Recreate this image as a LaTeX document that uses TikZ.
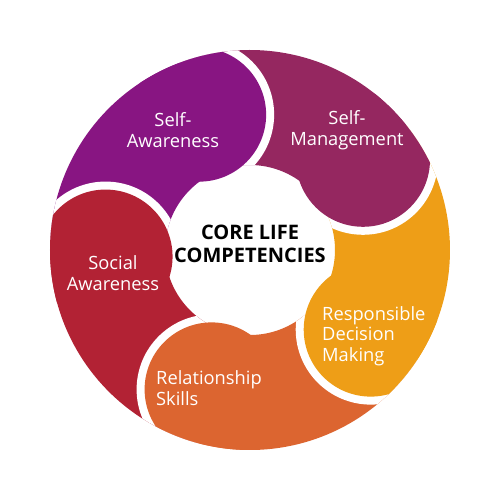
\documentclass[tikz,border=0pt]{standalone}
\usepackage{fontspec}
\setmainfont{Open Sans}
\definecolor{cRed}{HTML}{B22234}
\definecolor{cPurple}{HTML}{881582}
\definecolor{cMagenta}{HTML}{952760}
\definecolor{cYellow}{HTML}{EE9E17}
\definecolor{cOrange}{HTML}{DC6530}
\newcommand\Ro{200}
\newcommand\Ri{85}
\newcommand\Rh{67}
\newcommand\Rb{75}
\newcommand\Dh{144.6}
\newcommand\ringsector[2]{%
  \fill[#2] (#1:\Ro) arc[start angle=#1, end angle=#1+72, radius=\Ro]
    -- ({#1+72}:\Ri) arc[start angle=#1+72, end angle=#1, radius=\Ri] -- cycle;}
\newcommand\ringbite[1]{%
  \begin{scope}
    \clip (#1:\Ro) arc[start angle=#1, end angle=#1+72, radius=\Ro]
      -- ({#1+72}:\Ri) arc[start angle=#1+72, end angle=#1, radius=\Ri] -- cycle;
    \fill[white] ({#1+72}:\Dh) circle (\Rb);
  \end{scope}}
\newcommand\ringhead[2]{%
  \begin{scope}
    \clip (0,0) circle (\Ro);
    \fill[#2] (#1:\Dh) circle (\Rh);
  \end{scope}}
\tikzset{
  lbl/.style={text=white, font=\fontsize{18.3}{20.5}\selectfont, inner sep=0pt},
  core/.style={text=black, font=\fontsize{20}{22.5}\selectfont\bfseries, align=center, inner sep=0pt}
}
\begin{document}
\begin{tikzpicture}[x=1pt,y=1pt]
\useasboundingbox (-250,-250) rectangle (250,250);
\fill[white] (-250,-250) rectangle (250,250);
% sectors
\ringsector{182.6}{cRed}
\ringsector{110.6}{cPurple}
\ringsector{38.6}{cMagenta}
\ringsector{-33.4}{cYellow}
\ringsector{254.6}{cOrange}
% bites
\ringbite{182.6}
\ringbite{110.6}
\ringbite{38.6}
\ringbite{-33.4}
\ringbite{254.6}
% heads
\ringhead{182.6}{cRed}
\ringhead{110.6}{cPurple}
\ringhead{38.6}{cMagenta}
\ringhead{-33.4}{cYellow}
\ringhead{254.6}{cOrange}
% labels
\node[lbl, align=center] (sa) at (-77,120) {Self-\\Awareness};
\node[lbl, align=center] (sm) at (97,120) {Self-\\Management};
\node[lbl, align=center] (soc) at (-137,-23) {Social\\Awareness};
\node[lbl, align=left, anchor=west] (rdm) at (72,-86) {Responsible\\Decision\\Making};
\node[lbl, align=left, anchor=west] (rs) at (-94,-138) {Relationship\\Skills};
\node[core] (c) at (0,6) {CORE LIFE\\COMPETENCIES};
\end{tikzpicture}
\end{document}
